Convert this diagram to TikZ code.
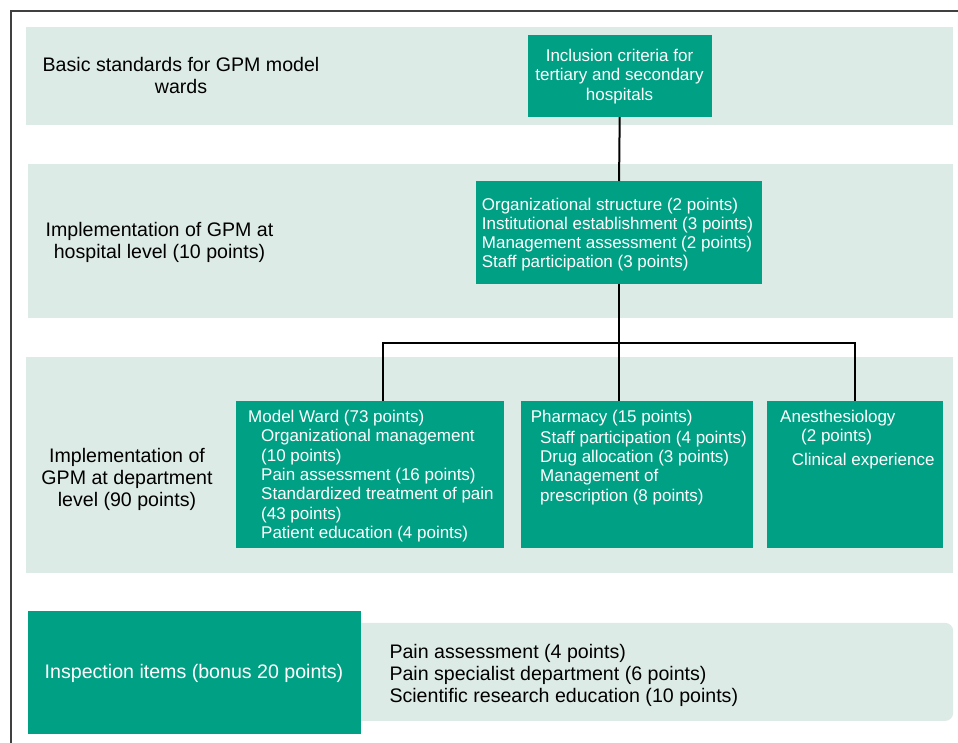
\documentclass[tikz,border=0pt]{standalone}
\usepackage{fontspec}
\setmainfont{Liberation Sans}
\definecolor{gpmgreen}{RGB}{0,160,133}
\definecolor{gpmlight}{RGB}{221,235,230}
\begin{document}
\begin{tikzpicture}[x=1pt,y=-1pt,
  band/.style={fill=gpmlight, draw=none, anchor=north west, inner sep=0pt},
  gbox/.style={fill=gpmgreen, draw=none, anchor=north west, inner sep=0pt},
  wtxt/.style={text=white, font=\fontsize{17}{19.3}\selectfont, inner sep=0pt},
  wbig/.style={text=white, font=\fontsize{19.6}{22}\selectfont, inner sep=0pt},
  ktxt/.style={text=black, font=\fontsize{19.6}{22}\selectfont, inner sep=0pt},
  link/.style={draw=black, line width=2pt},
  frameline/.style={draw=black!75, line width=1.5pt}]
\useasboundingbox (0,0) rectangle (958,742);
% frame
\coordinate (fbl) at (11,745);
\coordinate (ftl) at (11,11);
\coordinate (ftr) at (961,11);
\draw[frameline] (fbl) -- (ftl) -- (ftr);
% bands
\node[band, minimum width=927pt, minimum height=98pt] (band1) at (26,27) {};
\node[band, minimum width=925pt, minimum height=154.5pt] (band2) at (28,163.3) {};
\node[band, minimum width=927pt, minimum height=215.5pt] (band3) at (26,357.2) {};
\node[band, rounded corners=8pt, minimum width=613pt, minimum height=98pt] (band4) at (340,622.7) {};
% green boxes
\node[gbox, minimum width=184.4pt, minimum height=81.7pt] (crit) at (527.3,35) {};
\node[gbox, minimum width=285.7pt, minimum height=102.3pt] (hosp) at (476,181) {};
\node[gbox, minimum width=268pt, minimum height=146.7pt] (ward) at (236,401) {};
\node[gbox, minimum width=232pt, minimum height=146.7pt] (pharm) at (521,401) {};
\node[gbox, minimum width=175.7pt, minimum height=146.7pt] (anes) at (767,401) {};
\node[gbox, minimum width=333pt, minimum height=122.7pt] (insp) at (28,611) {};
% connectors
\coordinate (jl) at (383.3,343.3);
\coordinate (jr) at (855,343.3);
\draw[link] (crit.south) -- (hosp.north);
\draw[link] (hosp.south) -- (pharm.north -| hosp.south);
\draw[link] (ward.north -| jl) -- (jl) -- (jr) -- (anes.north -| jr);
% labels (anchor = baseline of the last line)
\node[ktxt, anchor=base, align=center] (lab1) at (181,93) {Basic standards for GPM model\\wards};
\node[ktxt, anchor=base, align=center] (lab2) at (159.5,258.5) {Implementation of GPM at\\hospital level (10 points)};
\node[ktxt, anchor=base, align=center] (lab3) at (127,506) {Implementation of\\GPM at department\\level (90 points)};
\node[wtxt, anchor=base, align=center, font=\fontsize{17}{19.6}\selectfont] (critt) at (619.5,100.5) {Inclusion criteria for\\tertiary and secondary\\hospitals};
\node[wtxt, anchor=base west, align=left, font=\fontsize{17}{19}\selectfont] (hospt) at (481.7,267) {Organizational structure (2 points)\\Institutional establishment (3 points)\\Management assessment (2 points)\\Staff participation (3 points)};
\node[wtxt, anchor=base west, align=left] (wardt) at (248,538.3) {Model Ward (73 points)\\
\hspace*{13pt}Organizational management\\
\hspace*{13pt}(10 points)\\
\hspace*{13pt}Pain assessment (16 points)\\
\hspace*{13pt}Standardized treatment of pain\\
\hspace*{13pt}(43 points)\\
\hspace*{13pt}Patient education (4 points)};
\node[wtxt, anchor=base west, align=left] (pharmt) at (530.7,501.2) {Pharmacy (15 points)\\[2pt]
\hspace*{9.3pt}Staff participation (4 points)\\
\hspace*{9.3pt}Drug allocation (3 points)\\
\hspace*{9.3pt}Management of\\
\hspace*{9.3pt}prescription (8 points)};
\node[wtxt, anchor=base west, align=left] (anest) at (780,465.1) {Anesthesiology\\
\hspace*{21pt}(2 points)\\[4.5pt]
\hspace*{11.7pt}Clinical experience};
\node[wbig, anchor=base] (inspt) at (194,678.3) {Inspection items (bonus 20 points)};
\node[ktxt, anchor=base west, align=left] (inspl) at (389.3,702.5) {Pain assessment (4 points)\\Pain specialist department (6 points)\\Scientific research education (10 points)};
\end{tikzpicture}
\end{document}
